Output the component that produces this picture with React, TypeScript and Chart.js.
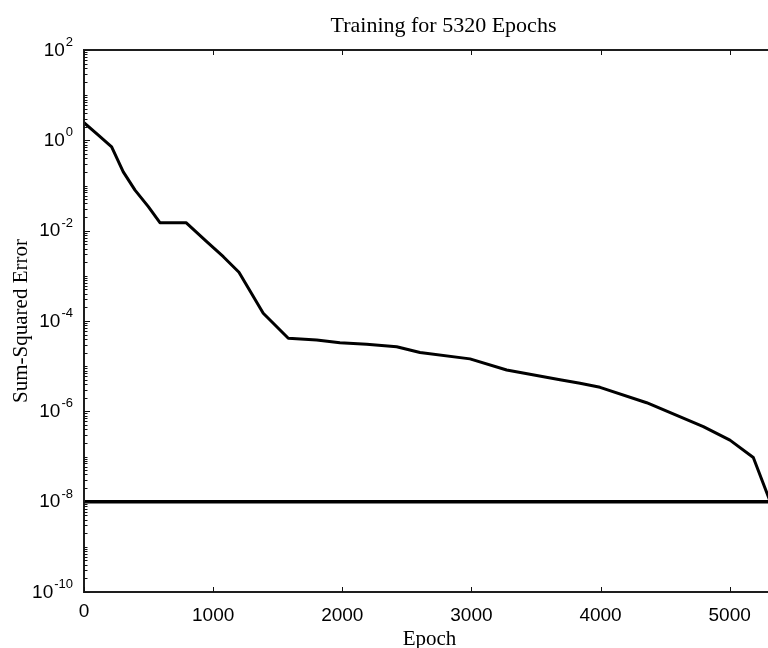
import React, { useEffect, useRef } from 'react';
import { Chart, registerables } from 'chart.js';

Chart.register(...registerables);

// ---- data ----
const EPOCHS = [0, 111, 214, 304, 395, 498, 588, 790, 950, 1079, 1200, 1388, 1582, 1802, 1982, 2189, 2421, 2602, 2989, 3273, 3686, 3841, 3996, 4357, 4796, 5002, 5183, 5320];
const SSE = [2.45, 1.31, 0.72, 0.2, 0.079, 0.034, 0.015, 0.015, 0.0057, 0.00265, 0.0012, 1.48e-4, 4.14e-5, 3.8e-5, 3.3e-5, 3.05e-5, 2.7e-5, 2.0e-5, 1.45e-5, 8.2e-6, 5.0e-6, 4.2e-6, 3.4e-6, 1.55e-6, 4.6e-7, 2.3e-7, 9.5e-8, 9e-9];
const GOAL_EPOCHS = [0, 5320];
const GOAL_SSE = [1e-8, 1e-8];

const X_MIN = 0;
const X_MAX = 5320;
const Y_MIN = 1e-10;
const Y_MAX = 1e2;
const X_TICKS = [0, 1000, 2000, 3000, 4000, 5000];
const X_TICK_LABELS = ['0', '1000', '2000', '3000', '4000', '5000'];
const Y_LABEL_EXPONENTS = [2, 0, -2, -4, -6, -8, -10];

const TITLE = 'Training for 5320 Epochs';
const X_TITLE = 'Epoch';
const Y_TITLE = 'Sum-Squared Error';

const SANS = '"Liberation Sans", Arial, sans-serif';
const SERIF = '"Liberation Serif", "Times New Roman", serif';

const matlabAxes = {
  id: 'matlabAxes',
  afterDatasetsDraw(chart: any) {
    const { ctx, chartArea: a } = chart;
    const xs = chart.scales.x;
    const ys = chart.scales.y;
    ctx.save();

    // frame
    ctx.strokeStyle = '#1e1e1e';
    ctx.lineWidth = 2;
    ctx.beginPath();
    ctx.moveTo(a.left, a.top);
    ctx.lineTo(a.right, a.top);
    ctx.lineTo(a.right, a.bottom);
    ctx.lineTo(a.left, a.bottom);
    ctx.closePath();
    ctx.stroke();

    // ticks (inward)
    ctx.lineWidth = 1;
    ctx.strokeStyle = '#111';
    ctx.beginPath();
    for (const v of X_TICKS) {
      const px = Math.round(xs.getPixelForValue(v)) + 0.5;
      ctx.moveTo(px, a.bottom);
      ctx.lineTo(px, a.bottom - 5);
      ctx.moveTo(px, a.top);
      ctx.lineTo(px, a.top + 5);
    }
    const eMin = Math.round(Math.log10(Y_MIN));
    const eMax = Math.round(Math.log10(Y_MAX));
    for (let e = eMin; e <= eMax; e++) {
      for (let k = 1; k <= 9; k++) {
        const v = k * Math.pow(10, e);
        if (v > Y_MAX * 1.0001) break;
        const py = Math.round(ys.getPixelForValue(v)) + 0.5;
        const major = k === 1 && Y_LABEL_EXPONENTS.includes(e);
        const len = major ? 6 : 3.5;
        ctx.moveTo(a.left, py);
        ctx.lineTo(a.left + len, py);
      }
    }
    ctx.stroke();

    // x tick labels
    ctx.fillStyle = '#000';
    ctx.font = `19px ${SANS}`;
    ctx.textAlign = 'center';
    ctx.textBaseline = 'middle';
    X_TICKS.forEach((v, i) => {
      const yOff = v === 0 ? 20 : 24;
      ctx.fillText(X_TICK_LABELS[i], xs.getPixelForValue(v), a.bottom + yOff);
    });

    // y tick labels: 10^e
    const rightEdge = a.left - 11;
    for (const e of Y_LABEL_EXPONENTS) {
      const py = ys.getPixelForValue(Math.pow(10, e));
      const expStr = e < 0 ? '-' + Math.abs(e) : String(e);
      ctx.font = `13px ${SANS}`;
      const wExp = ctx.measureText(expStr).width;
      ctx.font = `19px ${SANS}`;
      const wBase = ctx.measureText('10').width;
      const start = rightEdge - wExp - wBase - 1;
      ctx.textAlign = 'left';
      ctx.textBaseline = 'alphabetic';
      ctx.fillText('10', start, py + 5.5);
      ctx.font = `13px ${SANS}`;
      ctx.fillText(expStr, start + wBase + 1, py - 4);
    }

    // titles
    ctx.font = `22px ${SERIF}`;
    ctx.textAlign = 'center';
    ctx.textBaseline = 'alphabetic';
    ctx.fillText(TITLE, (a.left + a.right) / 2 + 16, 32);

    ctx.font = `21px ${SERIF}`;
    ctx.fillText(X_TITLE, (a.left + a.right) / 2 + 2, 645);

    ctx.save();
    ctx.translate(27, (a.top + a.bottom) / 2);
    ctx.rotate(-Math.PI / 2);
    ctx.fillText(Y_TITLE, 0, 0);
    ctx.restore();

    ctx.restore();
  },
};

export default function App() {
  const canvasRef = useRef<HTMLCanvasElement | null>(null);

  useEffect(() => {
    const canvas = canvasRef.current;
    if (!canvas) return;
    const chart = new Chart(canvas, {
      type: 'line',
      data: {
        datasets: [
          {
            label: 'Performance',
            data: EPOCHS.map((x, i) => ({ x, y: SSE[i] })),
            borderColor: '#000',
            borderWidth: 3,
            borderJoinStyle: 'round',
            pointRadius: 0,
            tension: 0,
            fill: false,
          },
          {
            label: 'Goal',
            data: GOAL_EPOCHS.map((x, i) => ({ x, y: GOAL_SSE[i] })),
            borderColor: '#000',
            borderWidth: 3.5,
            pointRadius: 0,
            fill: false,
          },
        ],
      },
      options: {
        animation: false,
        responsive: false,
        maintainAspectRatio: false,
        layout: { padding: { left: 84, top: 50, right: 29, bottom: 56 } },
        plugins: {
          legend: { display: false },
          title: { display: false },
          tooltip: { enabled: false },
        },
        scales: {
          x: { type: 'linear', min: X_MIN, max: X_MAX, display: false },
          y: { type: 'logarithmic', min: Y_MIN, max: Y_MAX, display: false },
        },
      },
      plugins: [matlabAxes],
    });
    return () => chart.destroy();
  }, []);

  return (
    <div style={{ position: 'absolute', left: 0, top: 0, width: 768, height: 648, overflow: 'hidden', background: '#fff' }}>
      <canvas ref={canvasRef} width={800} height={648} style={{ width: 800, height: 648, display: 'block' }} />
    </div>
  );
}
